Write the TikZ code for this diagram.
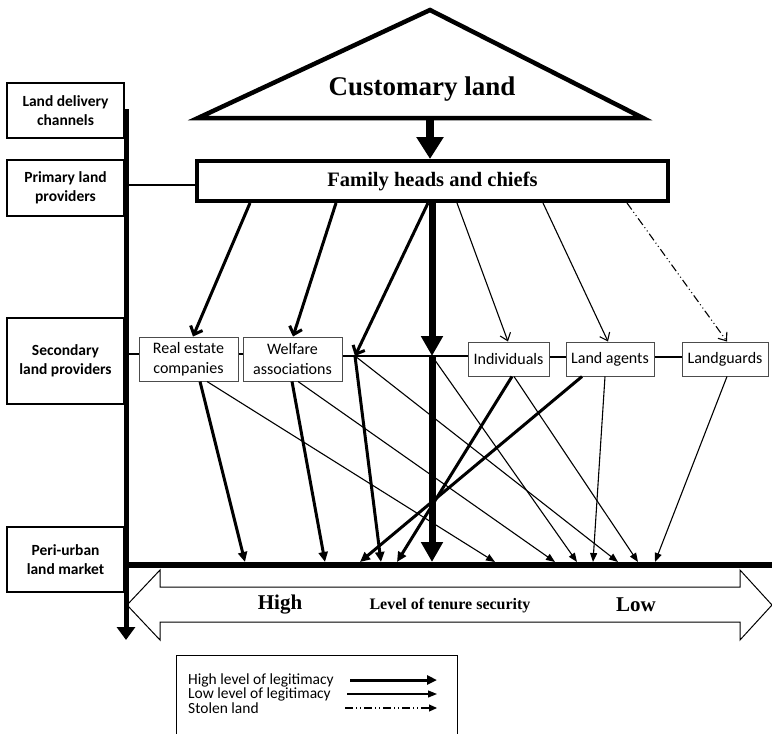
\documentclass[tikz,border=0pt]{standalone}
\usepackage{fontspec}
\setmainfont{Liberation Serif}
\newfontfamily\calfont{Carlito}
\usetikzlibrary{arrows.meta}
\begin{document}
\begin{tikzpicture}[x=1pt,y=-1pt,
  chanbox/.style={draw=black, line width=1.5pt, align=center, inner sep=0pt, minimum width=117pt,
    font=\calfont\bfseries\fontsize{15.5}{18.5}\selectfont},
  secbox/.style={draw=black!70, line width=1pt, align=center, inner sep=0pt,
    font=\calfont\fontsize{16}{19.5}\selectfont},
  hi/.style={line width=3pt, -{Triangle[length=10pt,width=9pt]}},
  lo/.style={line width=1.1pt, -{Triangle[length=9pt,width=7pt]}},
  hiv/.style={line width=3pt, -{Straight Barb[length=7pt,width=13pt]}},
  lov/.style={line width=1.1pt, -{Straight Barb[length=7pt,width=11pt]}},
  stolen/.style={line width=1.1pt, dash pattern=on 8pt off 3pt on 1pt off 3pt on 1pt off 3pt,
    -{Straight Barb[length=7pt,width=11pt]}},
  huge/.style={line width=7pt, -{Triangle[length=20pt,width=21pt]}},
  legtext/.style={anchor=west, inner sep=0pt, font=\calfont\fontsize{15.5}{15.5}\selectfont}
]
\useasboundingbox (0,0) rectangle (772,734);

% customary land triangle
\draw[line width=4.5pt, line join=miter] (430,10) -- (643,118) -- (198,118) -- cycle;
\node[font=\bfseries\fontsize{27}{30}\selectfont] (cust) at (422,89) {Customary land};
\coordinate (custb) at (430,120);

% family box
\node[draw=black, line width=4pt, minimum width=471pt, minimum height=40pt, inner sep=0pt,
  font=\bfseries\fontsize{20.5}{24}\selectfont] (fam) at (432.5,181) {Family heads and chiefs};
\draw[line width=8pt, -{Triangle[length=22pt,width=26pt]}] (custb) -- (fam.north -| custb);

% left channel boxes
\node[chanbox, minimum height=55pt] (ldc) at (65.5,110.5) {Land delivery\\channels};
\node[chanbox, minimum height=56pt] (plp) at (65.5,188) {Primary land\\providers};
\node[chanbox, minimum height=86pt] (slp) at (65.5,361) {Secondary\\land providers};
\node[chanbox, minimum height=65pt] (pum) at (65.5,559.5) {Peri-urban\\land market};

% hollow tenure arrow
\draw[line width=1pt, fill=white, line join=miter]
  (127,605) -- (160,570) -- (160,587) -- (740,587) -- (740,570) -- (772,605)
  -- (740,640) -- (740,622) -- (160,622) -- (160,640) -- cycle;
\node[font=\bfseries\fontsize{21}{24}\selectfont] (high) at (280,605) {High};
\node[font=\bfseries\fontsize{16}{19}\selectfont] (lts) at (450,606) {Level of tenure security};
\node[font=\bfseries\fontsize{21}{24}\selectfont] (low) at (636,605) {Low};

% axis
\coordinate (axtop) at (126,109);
\coordinate (axbot) at (126,640);
\draw[line width=5pt, -{Triangle[length=13pt,width=18pt]}] (axtop) -- (axbot);

% market line
\coordinate (mk0) at (124,565);
\coordinate (mk1) at (772,565);
\draw[line width=6pt] (mk0) -- (mk1);

% secondary boxes
\node[secbox, minimum width=99pt, minimum height=44pt] (re) at (188.5,359) {Real estate\\companies};
\node[secbox, minimum width=99pt, minimum height=44pt] (wa) at (292.5,359) {Welfare\\associations};
\node[secbox, minimum width=81pt, minimum height=34pt] (ind) at (508.5,359) {Individuals};
\node[secbox, minimum width=88pt, minimum height=34pt] (la) at (610,359) {Land agents};
\node[secbox, minimum width=86pt, minimum height=34pt] (lg) at (725,359) {Landguards};

\coordinate (p1) at (355,356);
\coordinate (p2) at (432,356);

% horizontal links
\draw[line width=1.5pt] (126,185) -- (fam.west |- 0,185);
\draw[line width=2pt] (126,354) -- (re.west |- 0,354);
\draw[line width=2pt] (re.east |- 0,354) -- (wa.west |- 0,354);
\draw[line width=2pt] (wa.east |- p1) -- (ind.west |- p1);
\draw[line width=2pt] (ind.east |- 0,357) -- (la.west |- 0,357);
\draw[line width=2pt] (la.east |- 0,357) -- (lg.west |- 0,357);

% family to secondary
\draw[hiv] (fam.south -| 250,0) -- (re.north -| 193,0);
\draw[hiv] (fam.south -| 336,0) -- (wa.north -| 293,0);
\draw[hiv] (fam.south -| 428,0) -- (p1);
\draw[huge] (fam.south -| p2) -- (p2);
\draw[lov] (fam.south -| 457,0) -- (ind.north -| 508,0);
\draw[lov] (fam.south -| 543,0) -- (la.north -| 608,0);
\draw[stolen] (fam.south -| 627,0) -- (lg.north -| 727,0);

% market targets
\coordinate (t1) at (245,562);
\coordinate (t2) at (325,562);
\coordinate (t3) at (360,562);
\coordinate (t4) at (381,562);
\coordinate (t5) at (397,562);
\coordinate (t6) at (432,562);
\coordinate (t7) at (495,562);
\coordinate (t8) at (555,562);
\coordinate (t9) at (577,562);
\coordinate (t10) at (593,562);
\coordinate (t11) at (618,562);
\coordinate (t12) at (638,562);
\coordinate (t13) at (655,562);

% secondary to market
\draw[hi] (re.south -| 200,0) -- (t1);
\draw[lo] (re.south -| 207,0) -- (t7);
\draw[hi] (wa.south -| 292,0) -- (t2);
\draw[lo] (wa.south -| 298,0) -- (t8);
\draw[hi] (p1) -- (t4);
\draw[lo] (p1) -- (t11);
\draw[huge] (p2) -- (t6);
\draw[lo] (p2) -- (t9);
\draw[hi] (ind.south -| 512,0) -- (t5);
\draw[lo] (ind.south -| 514,0) -- (t12);
\draw[hi] (la.south -| 582,0) -- (t3);
\draw[lo] (la.south -| 605,0) -- (t10);
\draw[lo] (lg.south -| 727,0) -- (t13);

% legend
\draw[line width=1pt] (176,736) -- (176,655) -- (457,655) -- (457,736);
\node[legtext] (lg1) at (188,680) {High level of legitimacy};
\node[legtext] (lg2) at (188,694) {Low level of legitimacy};
\node[legtext] (lg3) at (188,708) {Stolen land};
\coordinate (a1) at (350,680);
\coordinate (b1) at (437,680);
\coordinate (a2) at (347,694);
\coordinate (b2) at (437,694);
\coordinate (a3) at (345,708);
\coordinate (b3) at (437,708);
\draw[hi] (a1) -- (b1);
\draw[lo] (a2) -- (b2);
\draw[line width=1.1pt, dash pattern=on 8pt off 3pt on 1pt off 3pt on 1pt off 3pt,
  -{Triangle[length=8pt,width=7pt]}] (a3) -- (b3);
\end{tikzpicture}
\end{document}
